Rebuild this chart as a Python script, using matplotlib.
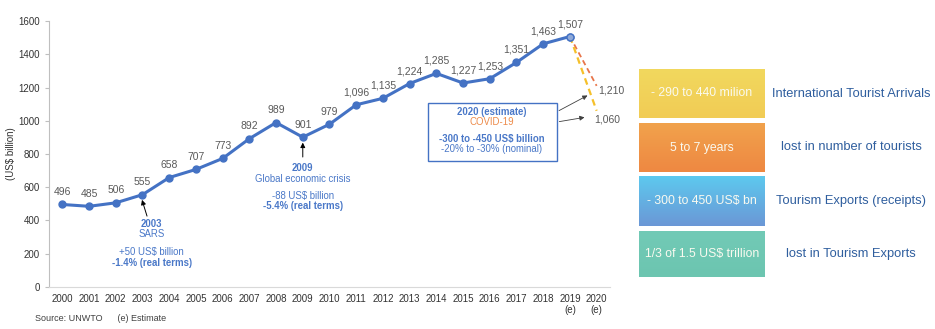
import numpy as np
import matplotlib.pyplot as plt
from matplotlib.patches import Rectangle
from matplotlib.colors import LinearSegmentedColormap

plt.rcParams['font.family'] = ['Liberation Sans', 'DejaVu Sans']

# data
years = ['2000', '2001', '2002', '2003', '2004', '2005', '2006', '2007', '2008', '2009',
         '2010', '2011', '2012', '2013', '2014', '2015', '2016', '2017', '2018', '2019\n(e)', '2020\n(e)']
receipts = [496, 485, 506, 555, 658, 707, 773, 892, 989, 901,
            979, 1096, 1135, 1224, 1285, 1227, 1253, 1351, 1463, 1507]
scenario_high = [1507, 1210]
scenario_low = [1507, 1060]
box_texts = ['- 290 to 440 milion', '5 to 7 years', '- 300 to 450 US$ bn', '1/3 of 1.5 US$ trillion']
side_texts = ['International Tourist Arrivals', 'lost in number of tourists',
              'Tourism Exports (receipts)', 'lost in Tourism Exports']
box_colors = [('#F2D85E', '#F1CC55'), ('#F1A24C', '#EE8842'),
              ('#5DC9EE', '#6B97D6'), ('#72CAB6', '#6CC5B0')]

blue = '#4472C4'
txtblue = '#4A78C8'
gray = '#595959'
fs = 6.9

fig = plt.figure(figsize=(9.35, 3.29), dpi=100)
ax = fig.add_axes([0.0524, 0.128, 0.600, 0.808])

x = np.arange(len(receipts))
ax.plot(x, receipts, color=blue, lw=2.2, marker='o', ms=5, zorder=3)
ax.plot(x[-1], receipts[-1], 'o', ms=5, mfc='#8FA9D8', mec=blue, zorder=4)
ax.plot([19, 20], scenario_high, ls=(0, (3, 2)), color='#E8754A', lw=1.3, zorder=2)
ax.plot([19, 20], scenario_low, ls=(0, (3, 2)), color='#F5C02A', lw=1.6, zorder=2)

for xi, v in zip(x, receipts):
    ax.text(xi, v + 45, f'{v:,}', ha='center', va='bottom', fontsize=7.5, color=gray)
ax.text(20.05, scenario_high[1] - 25, f'{scenario_high[1]:,}', ha='left', va='center', fontsize=7.5, color=gray)
ax.text(19.9, scenario_low[1] - 55, f'{scenario_low[1]:,}', ha='left', va='center', fontsize=7.5, color=gray)

ax.set_xlim(-0.5, 20.5)
ax.set_ylim(0, 1600)
ax.set_xticks(np.arange(len(years)))
ax.set_xticklabels(years, fontsize=7, color='#333333')
ax.set_yticks(np.arange(0, 1601, 200))
ax.tick_params(axis='y', labelsize=7, colors='#333333', length=3, color='#BFBFBF')
ax.tick_params(axis='x', length=0, pad=5)
ax.set_ylabel('(US$ billion)', fontsize=7, color='#333333', labelpad=2)
for s in ['top', 'right']:
    ax.spines[s].set_visible(False)
ax.spines['left'].set_color('#BFBFBF')
ax.spines['bottom'].set_color('#D9D9D9')

# SARS annotation
ax.annotate('', xy=(2.95, 540), xytext=(3.2, 410),
            arrowprops=dict(arrowstyle='-|>', color='black', lw=0.7, mutation_scale=7))
ax.text(3.35, 379, '2003', ha='center', va='center', fontsize=fs, color=txtblue, fontweight='bold')
ax.text(3.35, 319, 'SARS', ha='center', va='center', fontsize=fs, color=txtblue)
ax.text(3.35, 210, '+50 US$ billion', ha='center', va='center', fontsize=fs, color=txtblue)
ax.text(3.35, 146, '-1.4% (real terms)', ha='center', va='center', fontsize=fs, color=txtblue, fontweight='bold')

# 2009 annotation
ax.annotate('', xy=(9, 885), xytext=(9, 765),
            arrowprops=dict(arrowstyle='-|>', color='black', lw=0.7, mutation_scale=7))
ax.text(9, 716, '2009', ha='center', va='center', fontsize=fs, color=txtblue, fontweight='bold')
ax.text(9, 650, 'Global economic crisis', ha='center', va='center', fontsize=fs, color=txtblue)
ax.text(9, 547, '-88 US$ billion', ha='center', va='center', fontsize=fs, color=txtblue)
ax.text(9, 487, '-5.4% (real terms)', ha='center', va='center', fontsize=fs, color=txtblue, fontweight='bold')

# 2020 box
ax.add_patch(Rectangle((13.67, 758), 4.83, 349, fill=False, ec=blue, lw=1.0, zorder=5))
ax.text(16.08, 1053, '2020 (estimate)', ha='center', va='center', fontsize=fs, color=txtblue, fontweight='bold')
ax.text(16.08, 992, 'COVID-19', ha='center', va='center', fontsize=fs, color='#ED8B4A')
ax.text(16.08, 890, '-300 to -450 US$ billion', ha='center', va='center', fontsize=fs, color=txtblue, fontweight='bold')
ax.text(16.08, 830, '-20% to -30% (nominal)', ha='center', va='center', fontsize=fs, color=txtblue)
ax.annotate('', xy=(19.75, 1160), xytext=(18.5, 1053),
            arrowprops=dict(arrowstyle='-|>', color='#404040', lw=0.6, mutation_scale=7))
ax.annotate('', xy=(19.65, 1023), xytext=(18.5, 992),
            arrowprops=dict(arrowstyle='-|>', color='#404040', lw=0.6, mutation_scale=7))

# source line
fig.text(0.037, 0.025, 'Source: UNWTO      (e) Estimate', fontsize=6.5, color='#404040')

# right-hand boxes
box_tops = [69, 123, 176, 231]
box_bots = [118, 172, 226, 277]
W, H = 935, 329
for top, bot, t, st, (c1, c2) in zip(box_tops, box_bots, box_texts, side_texts, box_colors):
    bax = fig.add_axes([639 / W, 1 - bot / H, (765 - 639) / W, (bot - top) / H])
    grad = np.linspace(0, 1, 64)[:, None]
    cmap = LinearSegmentedColormap.from_list('g', [c1, c2])
    bax.imshow(grad, aspect='auto', cmap=cmap, extent=[0, 1, 0, 1], origin='upper')
    bax.set_axis_off()
    bax.text(0.5, 0.5, t, ha='center', va='center', fontsize=8.8, color='#FAFAF0',
             transform=bax.transAxes)
    fig.text(851 / W, 1 - (top + bot) / 2 / H, st, ha='center', va='center',
             fontsize=9.3, color='#2F5E9E')

fig.savefig('out.png', dpi=100)
